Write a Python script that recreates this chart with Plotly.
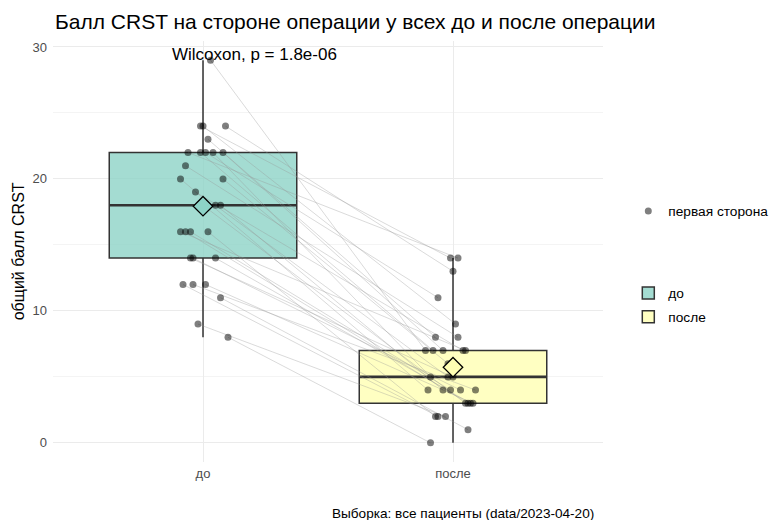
import numpy as np
import plotly.graph_objects as go

categories = ["до", "после"]
before = [29, 24, 24, 24, 23, 22, 22, 22, 22, 22, 21, 20, 20, 19, 18,
          18, 18, 16, 16, 16, 16, 14, 14, 14, 12, 12, 12, 11, 9, 8]
after = [7, 14, 9, 13, 8, 14, 7, 11, 5, 7, 8, 4, 6, 7, 3,
         5, 4, 7, 3, 4, 2, 5, 4, 3, 2, 4, 3, 1, 2, 0]
# horizontal jitter (category units)
jitter_before = [0.03, -0.01, 0.00, 0.09, 0.02, -0.06, -0.01, 0.01, 0.04, 0.08,
                 -0.07, -0.09, 0.08, -0.03, 0.00, 0.05, 0.07, -0.09, -0.07, -0.05,
                 0.02, -0.05, -0.04, 0.05, -0.08, -0.04, 0.01, 0.07, -0.02, 0.10]
jitter_after = [-0.11, -0.01, 0.01, 0.00, -0.07, 0.02, -0.08, -0.06, -0.09, -0.04,
                0.02, -0.10, -0.02, 0.04, 0.05, -0.02, -0.04, 0.05, 0.06, -0.01,
                -0.07, 0.00, 0.03, 0.07, -0.06, 0.09, 0.08, 0.06, -0.03, -0.09]
y_ticks = [0, 10, 20, 30]
title_text = "Балл CRST на стороне операции у всех до и после операции"
y_title = "общий балл CRST"
caption = "Выборка: все пациенты (data/2023-04-20)"
test_label = "Wilcoxon, p = 1.8e-06"
points_name = "первая сторона"

FONT = "Liberation Sans, Arial, Helvetica, sans-serif"
fills = ["rgba(141,211,199,0.8)", "rgba(255,255,179,0.8)"]
solid = ["rgb(141,211,199)", "rgb(255,255,179)"]
pos = [1, 2]
groups = [before, after]
jitters = [jitter_before, jitter_after]

fig = go.Figure()

# boxes
for i in range(2):
    fig.add_trace(go.Box(
        x=[pos[i]] * len(groups[i]), y=groups[i], name=categories[i],
        width=0.75, boxpoints=False, whiskerwidth=0,
        fillcolor=fills[i], line=dict(color="#333333", width=1.5),
        legend="legend2", legendgroup="g%d" % i, showlegend=True,
        quartilemethod="linear", hoverinfo="skip"))

# thicker median lines
for i in range(2):
    m = float(np.median(groups[i]))
    fig.add_trace(go.Scatter(
        x=[pos[i] - 0.375, pos[i] + 0.375], y=[m, m], mode="lines",
        line=dict(color="#333333", width=2.6), showlegend=False, hoverinfo="skip"))

# pair lines
lx, ly = [], []
for b, a, jb, ja in zip(before, after, jitter_before, jitter_after):
    lx += [1 + jb, 2 + ja, None]
    ly += [b, a, None]
fig.add_trace(go.Scatter(x=lx, y=ly, mode="lines",
                         line=dict(color="rgba(150,150,150,0.35)", width=1),
                         showlegend=False, hoverinfo="skip"))

# points
px_, py_ = [], []
for i in range(2):
    px_ += [pos[i] + j for j in jitters[i]]
    py_ += groups[i]
fig.add_trace(go.Scatter(x=px_, y=py_, mode="markers", name=points_name,
                         marker=dict(color="rgba(0,0,0,0.5)", size=7),
                         legend="legend"))

# means
for i in range(2):
    fig.add_trace(go.Scatter(
        x=[pos[i]], y=[float(np.mean(groups[i]))], mode="markers",
        marker=dict(symbol="diamond", size=15, color=solid[i],
                    line=dict(color="black", width=1.3)),
        showlegend=False, hoverinfo="skip"))

# Page is offset by 8px (body margin); figure coordinates below compensate.
L, T, PW, PH = 45, 33, 563, 421
fig.add_annotation(x=0.869, y=29.39, xref="x", yref="y", text=test_label,
                   showarrow=False, xanchor="left", yanchor="middle",
                   font=dict(size=17, color="black", family=FONT))
fig.add_annotation(x=(601 - L) / PW, y=(T + PH - 505) / PH, xref="paper", yref="paper",
                   text=caption, showarrow=False, xanchor="right", yanchor="middle",
                   font=dict(size=13.6, color="black", family=FONT))
fig.add_annotation(x=(10 - L) / PW, y=0.5, xref="paper", yref="paper",
                   text=y_title, textangle=-90, showarrow=False,
                   xanchor="center", yanchor="middle",
                   font=dict(size=16, color="black", family=FONT))

fig.update_layout(
    width=777, height=520,
    margin=dict(l=L, r=777 - L - PW, t=T, b=520 - T - PH),
    plot_bgcolor="white", paper_bgcolor="white",
    font=dict(family=FONT, color="black"),
    title=dict(text=title_text, x=47 / 777, xref="container", xanchor="left",
               y=1 - 14 / 520, yref="container", yanchor="middle",
               font=dict(size=21, color="black", family=FONT)),
    xaxis=dict(range=[0.4, 2.6], tickvals=pos, ticktext=categories, automargin=False,
               showgrid=True, gridcolor="#ebebeb", gridwidth=1, zeroline=False,
               showline=False, ticks="", ticklabelstandoff=2,
               tickfont=dict(size=13, color="#4d4d4d")),
    yaxis=dict(range=[-1.45, 30.45], tickvals=y_ticks, showgrid=True, automargin=False,
               gridcolor="#ebebeb", gridwidth=1, zeroline=False, showline=False,
               ticks="", ticklabelstandoff=5, tickfont=dict(size=13, color="#4d4d4d"),
               minor=dict(tickvals=[5, 15, 25], showgrid=True, gridcolor="#f4f4f4",
                          gridwidth=0.6)),
    legend=dict(x=1.046, xanchor="left", y=(T + PH - 203) / PH, yanchor="middle",
                font=dict(size=13.7, color="black"), bgcolor="rgba(0,0,0,0)"),
    legend2=dict(x=1.046, xanchor="left", y=(T + PH - 297) / PH, yanchor="middle",
                 tracegroupgap=3, traceorder="grouped",
                 font=dict(size=13.7, color="black"), bgcolor="rgba(0,0,0,0)"),
    showlegend=True,
)

fig.write_html("out.html")
